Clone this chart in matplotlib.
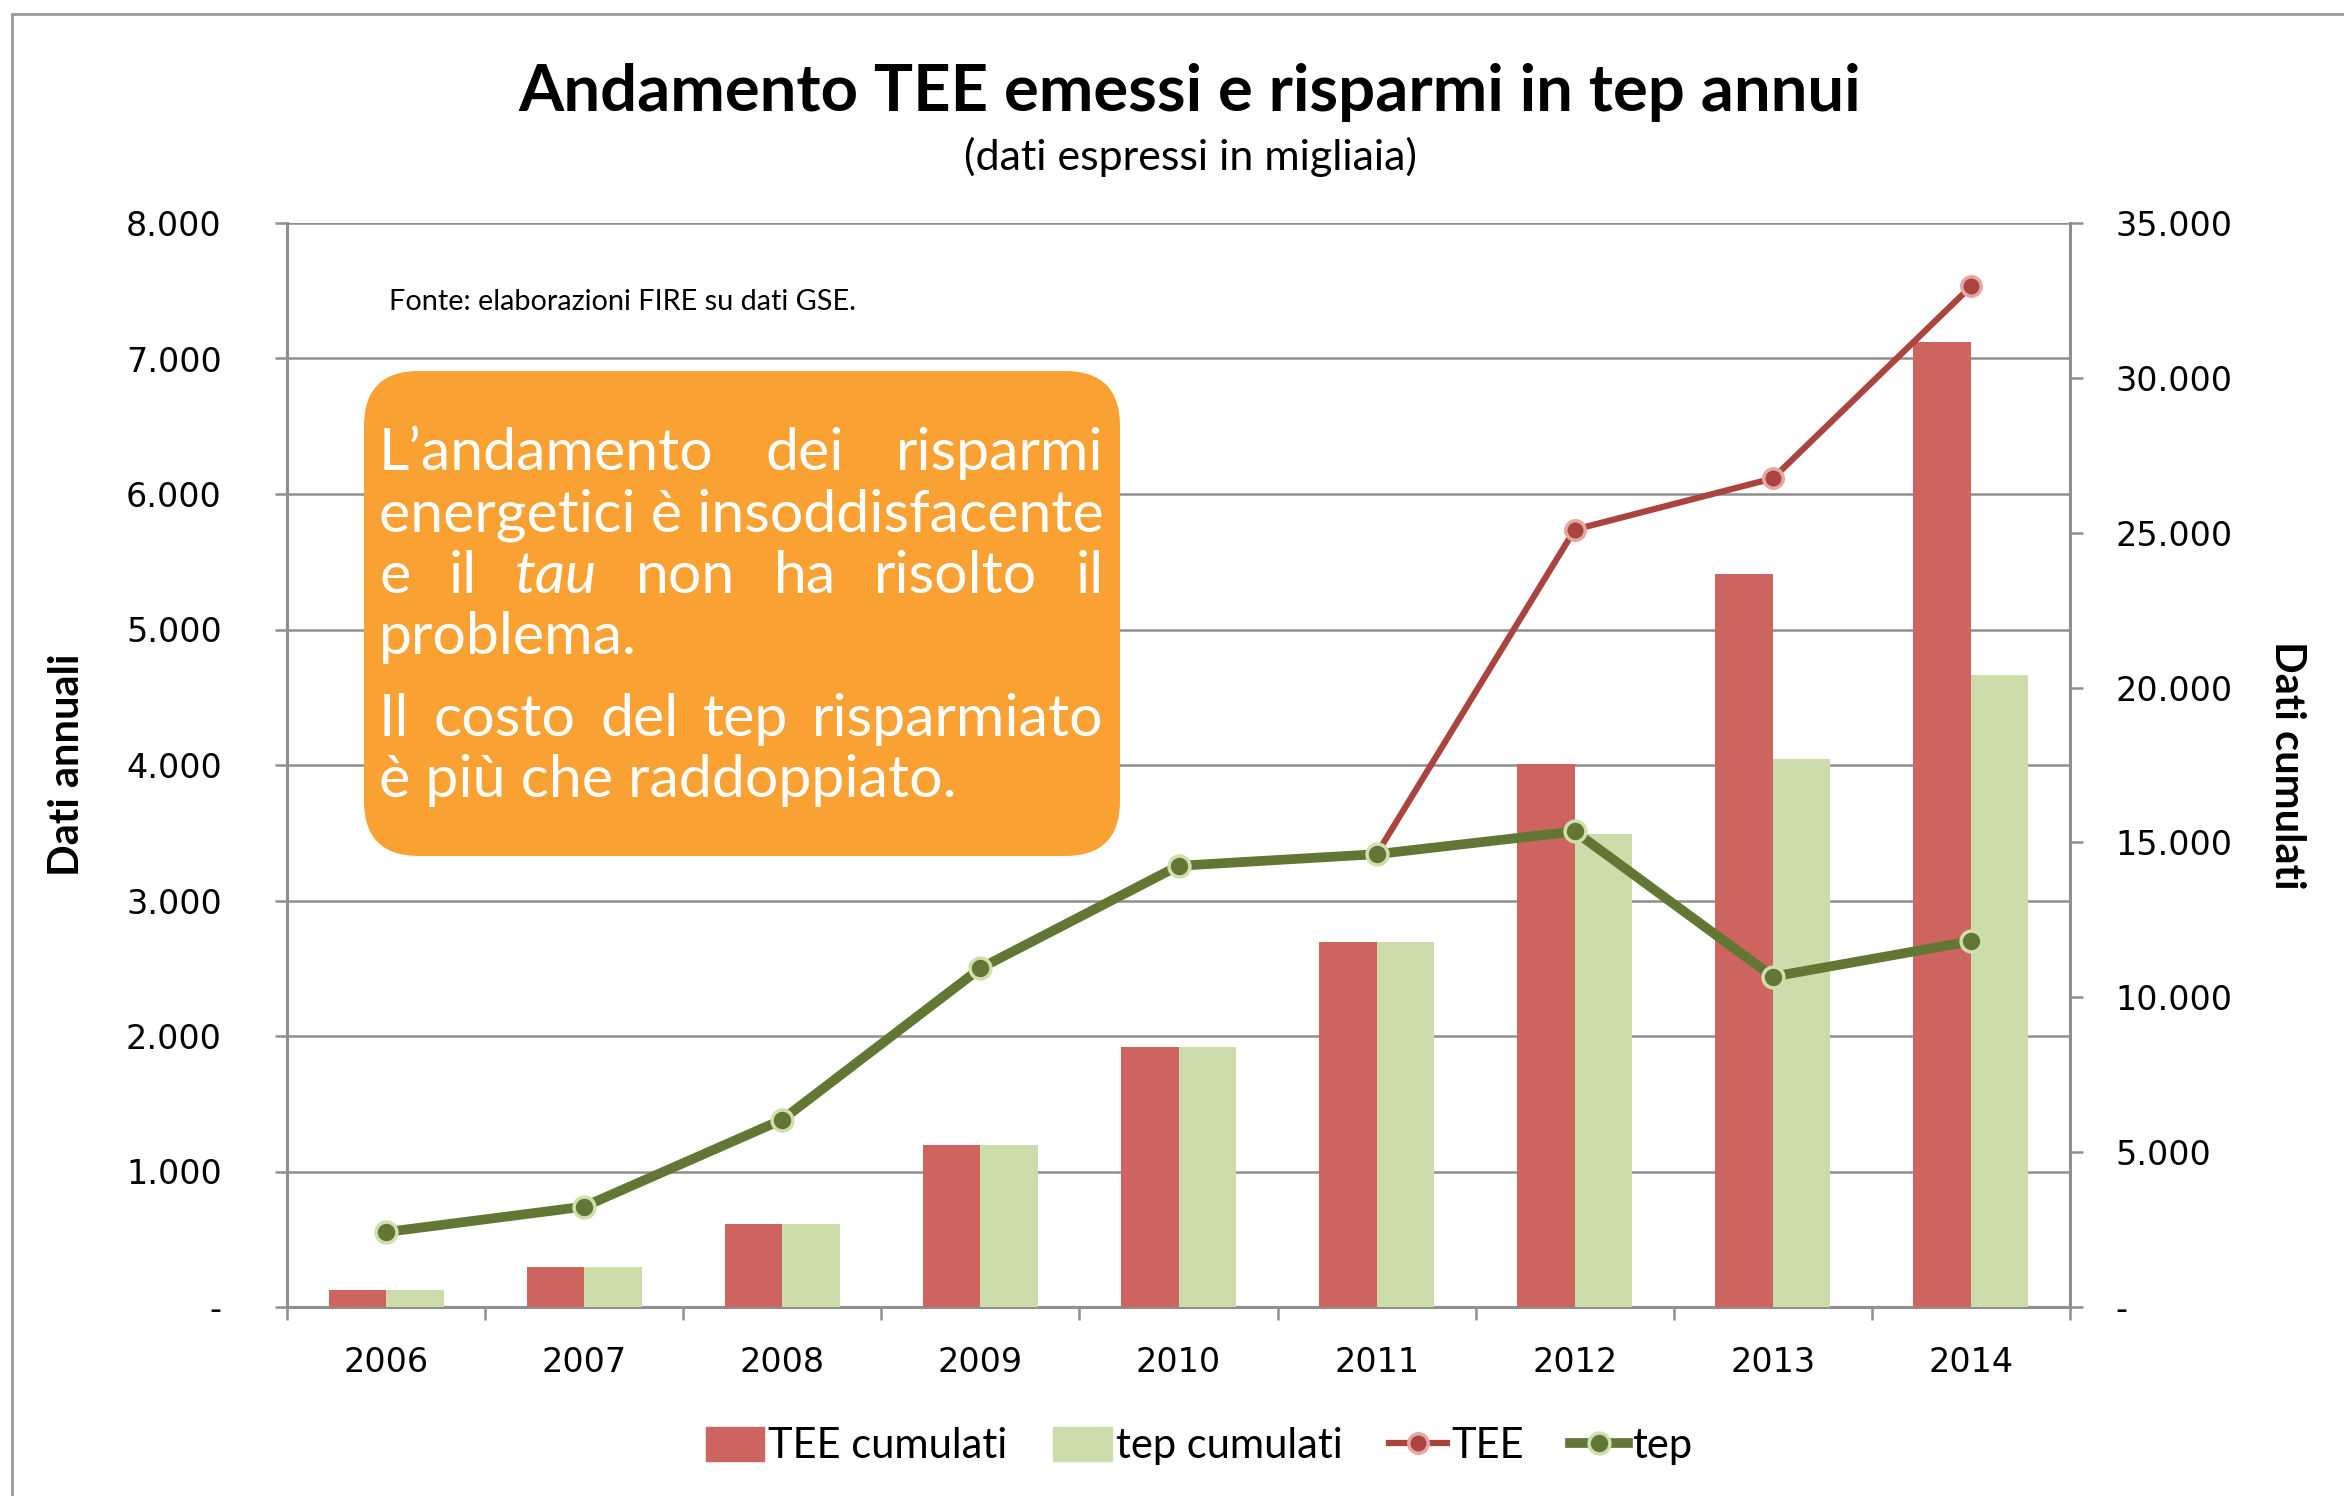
import numpy as np
import matplotlib
matplotlib.use('Agg')
import matplotlib.pyplot as plt
from matplotlib.patches import FancyBboxPatch, Rectangle, Patch
from matplotlib.lines import Line2D
from matplotlib.ticker import FuncFormatter, MultipleLocator
from matplotlib.transforms import IdentityTransform

# dati (migliaia)
anni = ['2006', '2007', '2008', '2009', '2010', '2011', '2012', '2013', '2014']
tee_annui = [553, 741, 1383, 2500, 3256, 3342, 5737, 6115, 7532]
tep_annui = [553, 741, 1383, 2500, 3256, 3342, 3510, 2438, 2699]
tee_cumulati = [549, 1301, 2693, 5234, 8408, 11785, 17526, 23677, 31151]
tep_cumulati = [549, 1301, 2693, 5234, 8408, 11785, 15258, 17690, 20410]

W, H = 2344, 1496
FONT = 'Lato'
GRID = '#8f8f8f'

fig = plt.figure(figsize=(W / 100, H / 100), dpi=100)
px = IdentityTransform()


def fx(x):
    return x / W


def fy(y):
    return 1 - y / H


def dots(v, pos):
    if v == 0:
        return '-'
    return f'{int(v):,}'.replace(',', '.')


# outer frame
fig.add_artist(Rectangle((12, -20), W + 40, H - 14 + 20, transform=px,
                         fill=False, ec='#9a9a9a', lw=2))

ax = fig.add_axes([fx(287), fy(1307), (2070 - 287) / W, (1307 - 223) / H])
x = np.arange(len(anni))

# left axis: grid + ticks
ax.set_xlim(-0.5, 8.5)
ax.set_ylim(0, 8000)
ax.yaxis.set_major_locator(MultipleLocator(1000))
ax.yaxis.set_major_formatter(FuncFormatter(dots))
ax.grid(axis='y', color=GRID, lw=1.8)
ax.set_axisbelow(True)
ax.set_xticks(np.arange(-0.5, 9, 1))
ax.set_xticklabels([])
ax.set_xticks(x, minor=True)
ax.set_xticklabels(anni, minor=True)
ax.tick_params(axis='x', which='minor', length=0, pad=28, labelsize=24)
ax.tick_params(axis='x', which='major', length=9, width=1.8, color=GRID)
ax.tick_params(axis='y', length=9, width=1.8, color=GRID, pad=38, labelsize=24)
for s in ['top', 'right']:
    ax.spines[s].set_visible(False)
for s in ['left', 'bottom']:
    ax.spines[s].set_color(GRID)
    ax.spines[s].set_linewidth(2.2)

# right axis: cumulative bars
ax2 = ax.twinx()
ax2.set_ylim(0, 35000)
ax2.yaxis.set_major_locator(MultipleLocator(5000))
ax2.yaxis.set_major_formatter(FuncFormatter(dots))
ax2.tick_params(axis='y', length=9, width=1.8, color=GRID, pad=24, labelsize=24)
for s in ['top', 'left', 'bottom']:
    ax2.spines[s].set_visible(False)
ax2.spines['right'].set_color(GRID)
ax2.spines['right'].set_linewidth(2.2)
bw = 0.29
ax2.bar(x - bw / 2, tee_cumulati, bw, color='#CD645F')
ax2.bar(x + bw / 2, tep_cumulati, bw, color='#CCDDAB')

# annual lines, on top
ax3 = ax.twinx()
ax3.set_ylim(0, 8000)
ax3.axis('off')
ax3.plot(x, tee_annui, color='#A9443F', lw=4.5, marker='o', ms=14,
         mfc='#A9443F', mec='#E8A6A3', mew=2.5)
ax3.plot(x, tep_annui, color='#627734', lw=7, marker='o', ms=15,
         mfc='#627734', mec='#CFDFAE', mew=2.5)

# titles / labels
fig.text(fx(1190), fy(93), 'Andamento TEE emessi e risparmi in tep annui',
         ha='center', va='center', fontsize=47, fontweight='bold', family=FONT)
fig.text(fx(1190), fy(157), '(dati espressi in migliaia)',
         ha='center', va='center', fontsize=31, family=FONT)
fig.text(fx(67), fy(765), 'Dati annuali', rotation=90, ha='center', va='center',
         fontsize=30, fontweight='bold', family=FONT)
fig.text(fx(2287), fy(765), 'Dati cumulati', rotation=270, ha='center', va='center',
         fontsize=30, fontweight='bold', family=FONT)
fig.text(fx(389), fy(302), 'Fonte: elaborazioni FIRE su dati GSE.',
         ha='left', va='center', fontsize=20.8, family=FONT)

# legend
handles = [
    Patch(color='#CD645F', label='TEE cumulati'),
    Patch(color='#CCDDAB', label='tep cumulati'),
    Line2D([], [], color='#A9443F', lw=4.5, marker='o', ms=14, mfc='#A9443F',
           mec='#E8A6A3', mew=2.5, label='TEE'),
    Line2D([], [], color='#627734', lw=7, marker='o', ms=15, mfc='#627734',
           mec='#CFDFAE', mew=2.5, label='tep'),
]
fig.legend(handles=handles, loc='center', bbox_to_anchor=(fx(1199), fy(1446)),
           ncol=4, frameon=False, prop={'family': FONT, 'size': 30},
           handlelength=1.4, handleheight=0.9, handletextpad=0.1,
           columnspacing=1.1)

# orange box with justified text
fig.add_artist(FancyBboxPatch((364, H - 856), 756, 485, transform=px,
                              boxstyle='round,pad=0,rounding_size=55',
                              fc='#F9A233', ec='none'))

fig.canvas.draw()
renderer = fig.canvas.get_renderer()


def width(word, fs, style):
    t = fig.text(0, 0, word, fontsize=fs, family=FONT, style=style)
    w = t.get_window_extent(renderer).width
    t.remove()
    return w


left, right = 379, 1104
fs = 36
fs *= (right - left) / width('energetici è insoddisfacente', fs, 'normal')

righe = [
    ([('L’andamento', 'normal'), ('dei', 'normal'), ('risparmi', 'normal')], True, 470),
    ([('energetici è insoddisfacente', 'normal')], False, 532),
    ([('e', 'normal'), ('il', 'normal'), ('tau', 'italic'), ('non', 'normal'),
      ('ha', 'normal'), ('risolto', 'normal'), ('il', 'normal')], True, 593),
    ([('problema.', 'normal')], False, 654),
    ([('Il', 'normal'), ('costo', 'normal'), ('del', 'normal'), ('tep', 'normal'),
      ('risparmiato', 'normal')], True, 736),
    ([('è più che raddoppiato.', 'normal')], False, 797),
]
for parole, giust, base in righe:
    ws = [width(p, fs, st) for p, st in parole]
    gap = (right - left - sum(ws)) / (len(ws) - 1) if giust else 0
    xpos = left
    for (p, st), w in zip(parole, ws):
        fig.text(xpos, H - base, p, transform=px, fontsize=fs, family=FONT,
                 style=st, color='white', ha='left', va='baseline')
        xpos += w + gap

fig.savefig('out.png', dpi=100)
